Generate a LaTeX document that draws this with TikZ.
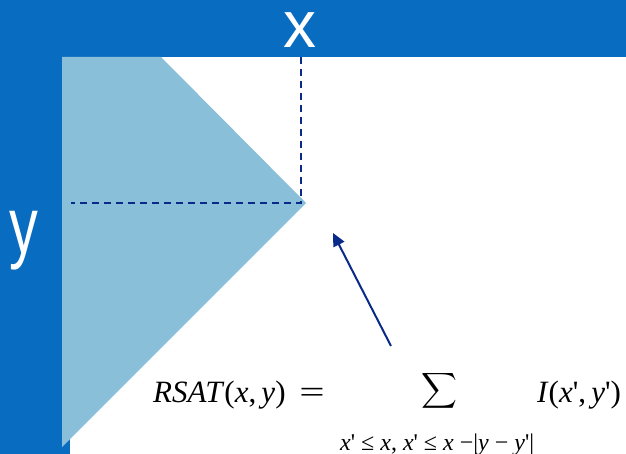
\documentclass[tikz,border=0pt]{standalone}
\usepackage{fix-cm}
\usepackage{exscale}
\usepackage{fontspec}
\setmainfont{Liberation Serif}
\newfontfamily\labelfont{Liberation Sans}
\usetikzlibrary{arrows.meta, positioning}
\definecolor{barblue}{HTML}{086CC0}
\definecolor{regionblue}{HTML}{89BFD9}
\definecolor{navy}{HTML}{0A2A8A}
\newcommand\pr{\textquotesingle}
\tikzset{
  bar/.style     = {fill=barblue, draw=none},
  region/.style  = {fill=regionblue, draw=none},
  guide/.style   = {draw=navy, line width=2.2pt, dash pattern=on 7pt off 5pt},
  pointer/.style = {-{Triangle[length=13pt, width=12pt]}, draw=navy, line width=2pt},
  axislabel/.style = {text=white, inner sep=0pt, anchor=base, font=\labelfont\fontsize{66}{66}\selectfont},
  formula/.style = {inner sep=0pt, anchor=base west, font=\fontsize{31}{36}\selectfont},
  limits/.style  = {inner sep=0pt, anchor=base west, font=\fontsize{24}{30}\selectfont}
}
\begin{document}
\begin{tikzpicture}[x=1pt, y=-1pt]
\useasboundingbox (0,0) rectangle (626,454);
\clip (0,0) rectangle (626,454);
% frame bars
\fill[bar] (0,0) rectangle (626,57);
\fill[bar] (0,0) rectangle (70,454);
% summed region
\fill[region] (62,57) -- (161,57) -- (306,203) -- (62,447) -- cycle;
% guides to the point (x,y)
\coordinate (pt) at (301,203);
\coordinate (xtop) at (301,57);
\coordinate (yleft) at (71,203);
\draw[guide] (xtop) -- (pt) -- (yleft);
\node[axislabel] (xlab) at (300,48) {x};
\node[axislabel, font=\labelfont\fontsize{80}{80}\selectfont] (ylab) at (24,254) {\scalebox{0.72}[1]{y}};
% pointer
\coordinate (tail) at (391,346);
\coordinate (tip) at (333,233);
\draw[pointer] (tail) -- (tip);
% formula
\node[formula] (lhs) at (153,402)
  {\textit{RSAT}(\textit{x},\,\textit{y})\;\,\scalebox{1.45}[1]{=}};
\node[inner sep=0pt, font=\fontsize{23}{28}\selectfont] (sum) at (439,391) {$\displaystyle\sum$};
\node[formula] (term) at (537,402) {\textit{I}(\textit{x}\pr,\,\textit{y}\pr)};
\node[limits] (cond) at (340,450)
  {\textit{x}\pr{} ≤ \textit{x}, \textit{x}\pr{} ≤ \textit{x} −|\textit{y} − \textit{y}\pr|};
\end{tikzpicture}
\end{document}
